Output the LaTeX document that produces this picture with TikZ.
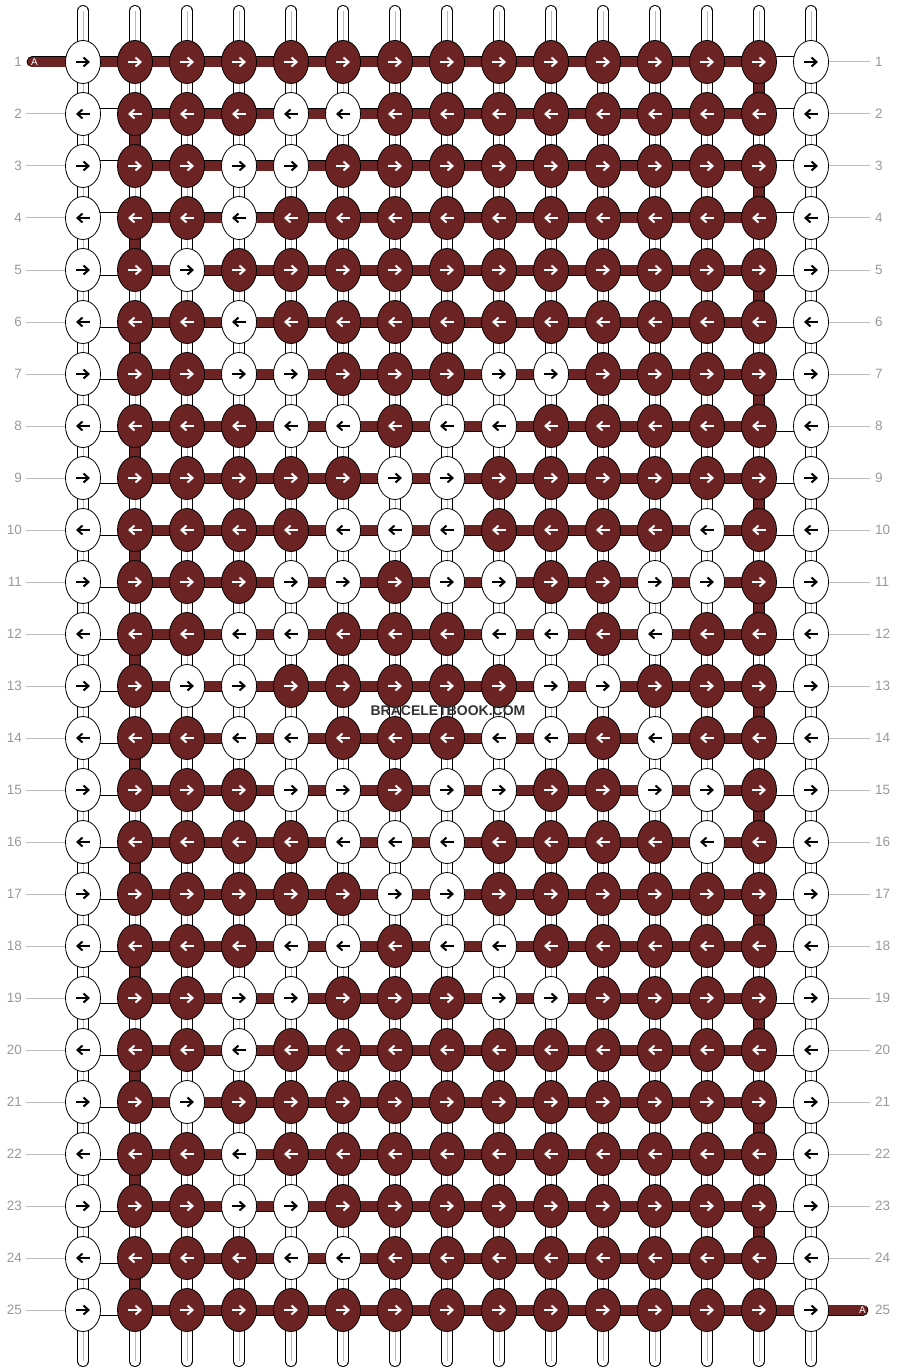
\documentclass[tikz,border=0pt]{standalone}
\usepackage{fontspec}
\setmainfont{Liberation Sans}
\usetikzlibrary{shapes.geometric,arrows.meta,backgrounds}
\definecolor{threadred}{HTML}{6C2324}
\definecolor{labelgray}{HTML}{999999}
\definecolor{tickgray}{HTML}{BBBBBB}
\colorlet{fillw}{white}
\colorlet{filld}{threadred}
\colorlet{inkw}{black}
\colorlet{inkd}{white}
\tikzset{
  knot/.style={draw=black, line width=0.8pt, ellipse, minimum width=35pt, minimum height=43pt, inner sep=0pt},
  knotarrow/.style={line width=2pt, -{Straight Barb[length=5pt,width=9pt]}},
  stringv/.style={draw=black, line width=0.8pt, double=white, double distance=10.2pt},
  stringmid/.style={draw=tickgray, line width=0.8pt},
  threadh/.style={draw=black, line width=0.8pt, double=threadred, double distance=9.4pt},
  blankh/.style={draw=black, line width=0.8pt, double=white, double distance=9.4pt},
  rowlabel/.style={text=labelgray, font=\fontsize{13.5}{15}\selectfont, inner sep=0pt},
  tick/.style={draw=tickgray, line width=1pt},
}

\begin{document}
\begin{tikzpicture}[x=1pt, y=-1pt]%
\useasboundingbox (0,0) rectangle (896,1372);%
% knots, row by row
\foreach \row/\dir/\pat in {%
  1/1/{w,d,d,d,d,d,d,d,d,d,d,d,d,d,w},
  2/-1/{w,d,d,d,w,w,d,d,d,d,d,d,d,d,w},
  3/1/{w,d,d,w,w,d,d,d,d,d,d,d,d,d,w},
  4/-1/{w,d,d,w,d,d,d,d,d,d,d,d,d,d,w},
  5/1/{w,d,w,d,d,d,d,d,d,d,d,d,d,d,w},
  6/-1/{w,d,d,w,d,d,d,d,d,d,d,d,d,d,w},
  7/1/{w,d,d,w,w,d,d,d,w,w,d,d,d,d,w},
  8/-1/{w,d,d,d,w,w,d,w,w,d,d,d,d,d,w},
  9/1/{w,d,d,d,d,d,w,w,d,d,d,d,d,d,w},
  10/-1/{w,d,d,d,d,w,w,w,d,d,d,d,w,d,w},
  11/1/{w,d,d,d,w,w,d,w,w,d,d,w,w,d,w},
  12/-1/{w,d,d,w,w,d,d,d,w,w,d,w,d,d,w},
  13/1/{w,d,w,w,d,d,d,d,d,w,w,d,d,d,w},
  14/-1/{w,d,d,w,w,d,d,d,w,w,d,w,d,d,w},
  15/1/{w,d,d,d,w,w,d,w,w,d,d,w,w,d,w},
  16/-1/{w,d,d,d,d,w,w,w,d,d,d,d,w,d,w},
  17/1/{w,d,d,d,d,d,w,w,d,d,d,d,d,d,w},
  18/-1/{w,d,d,d,w,w,d,w,w,d,d,d,d,d,w},
  19/1/{w,d,d,w,w,d,d,d,w,w,d,d,d,d,w},
  20/-1/{w,d,d,w,d,d,d,d,d,d,d,d,d,d,w},
  21/1/{w,d,w,d,d,d,d,d,d,d,d,d,d,d,w},
  22/-1/{w,d,d,w,d,d,d,d,d,d,d,d,d,d,w},
  23/1/{w,d,d,w,w,d,d,d,d,d,d,d,d,d,w},
  24/-1/{w,d,d,d,w,w,d,d,d,d,d,d,d,d,w},
  25/1/{w,d,d,d,d,d,d,d,d,d,d,d,d,d,w}}{%
  \foreach \tint [count=\col] in \pat {%
    \node[knot, fill=fill\tint] (k-\row-\col) at ({83+52*(\col-1)}, {62+52*(\row-1)}) {};%
    \draw[knotarrow, draw=ink\tint] ([xshift={-7*(\dir)}]k-\row-\col.center) -- ([xshift={7*(\dir)}]k-\row-\col.center);%
  }%
}%
\begin{scope}[on background layer]
% vertical strings
\foreach \col in {1,...,15}{%
  \coordinate (top-\col) at ({83+52*(\col-1)}, 11);%
  \coordinate (bot-\col) at ({83+52*(\col-1)}, 1361);%
  \draw[stringv, line cap=round] (top-\col) -- (k-1-\col.center);%
  \draw[stringmid] (top-\col) -- (k-1-\col.center);%
  \draw[stringv, line cap=round] (k-25-\col.center) -- (bot-\col);%
  \draw[stringmid] (k-25-\col.center) -- (bot-\col);%
  \foreach \row [count=\next from 2] in {1,...,24}{%
    \draw[stringv] (k-\row-\col.center) -- (k-\next-\col.center);%
    \draw[stringmid] (k-\row-\col.center) -- (k-\next-\col.center);%
  }%
}%
% working thread
\foreach \row in {1,...,25}{%
  \foreach \col [count=\next from 3] in {2,...,13}
    \draw[threadh] (k-\row-\col.center) -- (k-\row-\next.center);%
}%
\foreach \row in {2,...,25} \draw[blankh] (k-\row-1.center) -- (k-\row-2.center);%
\foreach \row in {1,...,24} \draw[blankh] (k-\row-14.center) -- (k-\row-15.center);%
\draw[threadh] (k-1-1.center) -- (k-1-2.center);%
\draw[threadh] (k-25-14.center) -- (k-25-15.center);%
\foreach \row [evaluate=\row as \next using int(\row+1)] in {2,4,...,24}
  \draw[threadh] (k-\row-2.center) -- (k-\next-2.center);%
\foreach \row [evaluate=\row as \next using int(\row+1)] in {1,3,...,23}
  \draw[threadh] (k-\row-14.center) -- (k-\next-14.center);%
\coordinate (thread-in) at (32.2,62);%
\coordinate (thread-out) at (862.8,1310);%
\draw[threadh, line cap=round] (thread-in) -- (k-1-1.center);%
\draw[threadh, line cap=round] (k-25-15.center) -- (thread-out);%
% row ticks
\foreach \row in {2,...,25}{%
  \coordinate (tick-l-\row) at (26, {62+52*(\row-1)});%
  \draw[tick] (tick-l-\row) -- (k-\row-1.center);%
}%
\foreach \row in {1,...,24}{%
  \coordinate (tick-r-\row) at (870, {62+52*(\row-1)});%
  \draw[tick] (k-\row-15.center) -- (tick-r-\row);%
}%
\end{scope}
% labels
\node[text=white, font=\fontsize{10}{12}\selectfont, inner sep=0pt] (a-in) at (34.5,62) {A};%
\node[text=white, font=\fontsize{10}{12}\selectfont, inner sep=0pt] (a-out) at (862.5,1310) {A};%
\foreach \row in {1,...,25}{%
  \node[rowlabel, anchor=east] (lab-l-\row) at (22, {62+52*(\row-1)}) {\row};%
  \node[rowlabel, anchor=west] (lab-r-\row) at (875, {62+52*(\row-1)}) {\row};%
}%
\node[text=black!80, font=\bfseries\fontsize{14}{16}\selectfont, inner sep=0pt] (watermark) at (448,711) {BRACELETBOOK.COM};%
\end{tikzpicture}
\end{document}
